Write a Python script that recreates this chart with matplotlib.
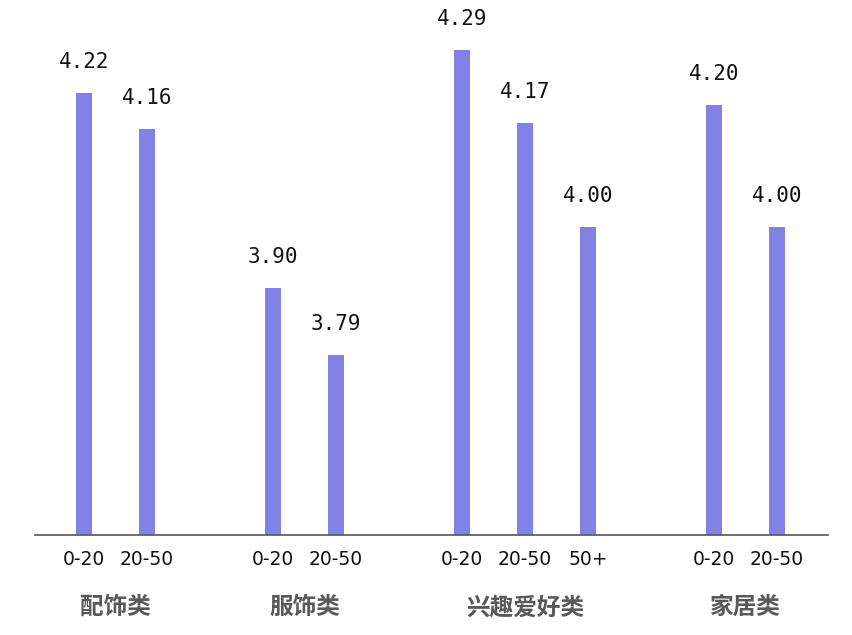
import matplotlib
matplotlib.use("Agg")
import matplotlib.pyplot as plt

categories = ["配饰类", "服饰类", "兴趣爱好类", "家居类"]
group_ticks = [["0-20", "20-50"], ["0-20", "20-50"], ["0-20", "20-50", "50+"], ["0-20", "20-50"]]
group_values = [[4.22, 4.16], [3.90, 3.79], [4.29, 4.17, 4.00], [4.20, 4.00]]

plt.rcParams['font.family'] = ['Noto Sans CJK SC', 'DejaVu Sans']

fig = plt.figure(figsize=(8.53, 6.35), dpi=100)
W, H = 853, 635
left, right, bottom, top = 35, 828, 535, 10
ax = fig.add_axes([left / W, 1 - bottom / H, (right - left) / W, (bottom - top) / H])

bar_color = "#8181E6"
pos = 0
xs, vals, ticklabels, centers = [], [], [], []
for labels, values in zip(group_ticks, group_values):
    gx = []
    for lab, v in zip(labels, values):
        xs.append(pos); vals.append(v); ticklabels.append(lab); gx.append(pos)
        pos += 1
    centers.append(sum(gx) / len(gx))
    pos += 1

ymin = 3.495
ax.bar(xs, [v - ymin for v in vals], bottom=ymin, width=0.25, color=bar_color)
for x, v in zip(xs, vals):
    ax.annotate(f"{v:.2f}", (x, v), xytext=(0, 22.5), textcoords="offset points",
                ha="center", va="center", fontsize=15, color="#111111",
                family=['DejaVu Sans Mono'])

ax.set_xlim(-0.78, 11.81)
ax.set_ylim(ymin, ymin + (bottom - top) / 610)
ax.set_xticks(xs)
ax.set_xticklabels(ticklabels, fontsize=13.5, color="#111111", family=['DejaVu Sans'])
ax.tick_params(axis='x', length=0, pad=11)
ax.set_yticks([])
for s in ["left", "right", "top"]:
    ax.spines[s].set_visible(False)
ax.spines["bottom"].set_color("#555555")
ax.spines["bottom"].set_linewidth(1.2)

for c, name in zip(centers, categories):
    ax.annotate(name, (c, ymin), xytext=(0, -52), textcoords="offset points",
                ha="center", va="center", fontsize=17, fontweight="bold", color="#595959",
                annotation_clip=False)

fig.savefig("out.png", dpi=100)
